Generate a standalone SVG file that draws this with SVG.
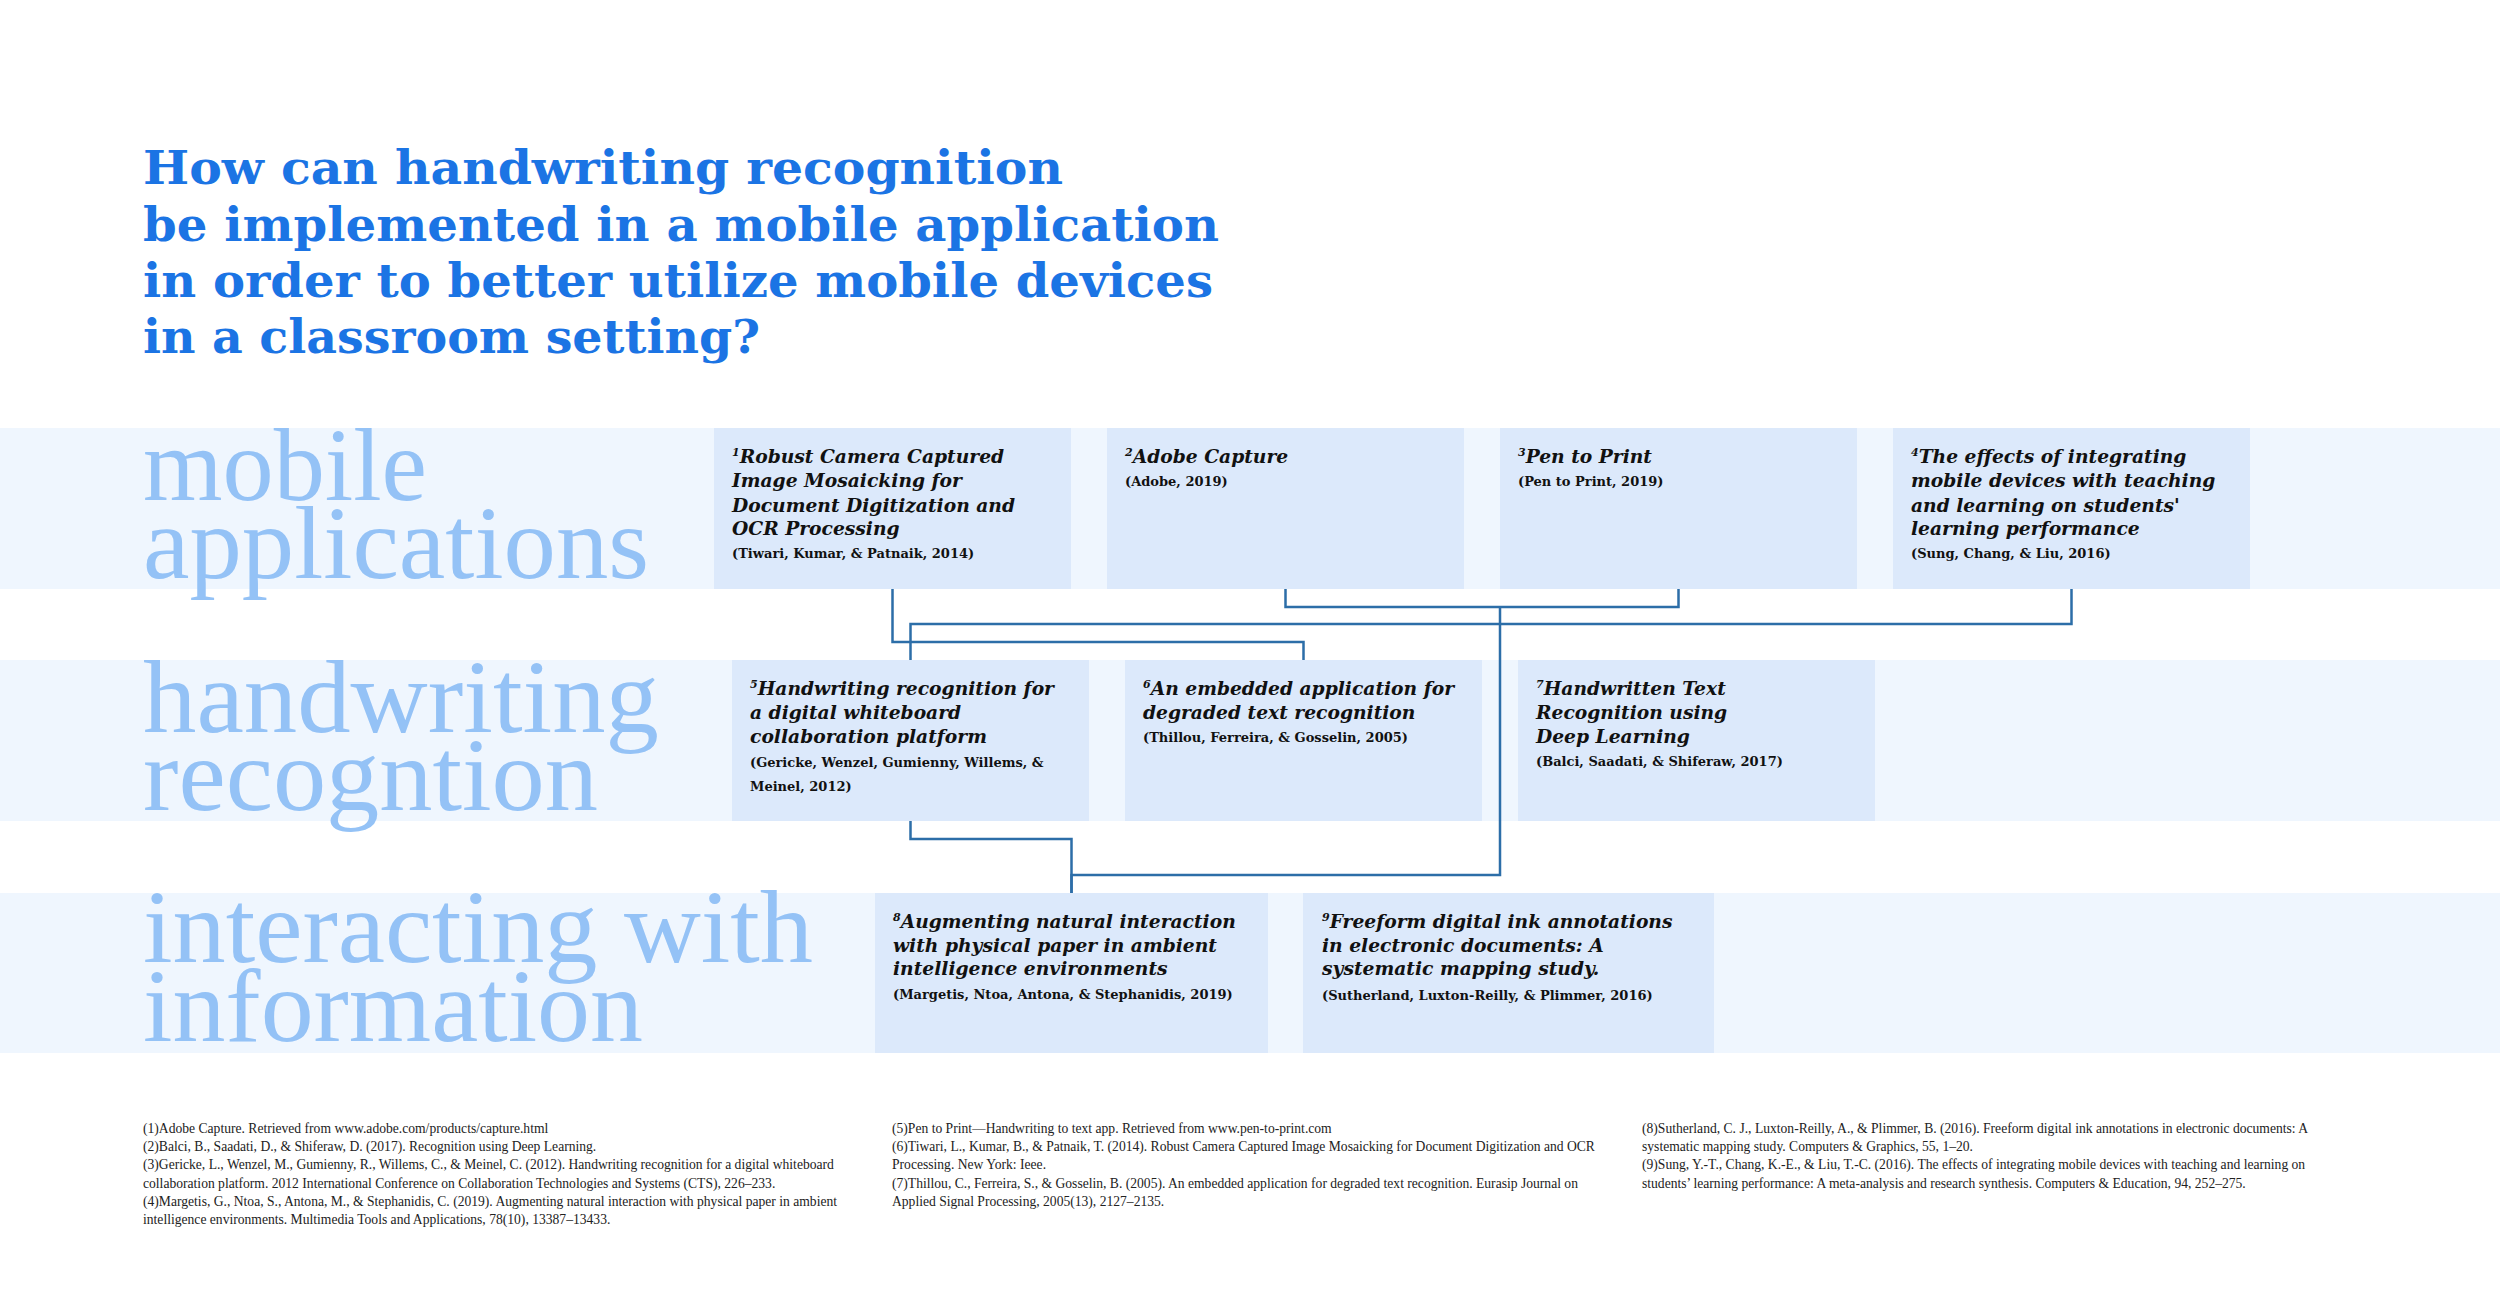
<svg xmlns="http://www.w3.org/2000/svg" width="2500" height="1304" viewBox="0 0 2500 1304">
<style>
.band{fill:#eff6fe}
.node{fill:#dce9fb}
.title{font-family:"DejaVu Serif","Liberation Serif",serif;font-weight:bold;font-size:46px;fill:#1b74e4}
.lab{font-family:"Liberation Serif",serif;font-size:104px;fill:#94c2f6}
.nt{font-family:"DejaVu Serif","Liberation Serif",serif;font-weight:bold;font-style:italic;font-size:18.7px;fill:#111}
.ct{font-family:"DejaVu Serif","Liberation Serif",serif;font-weight:bold;font-size:13px;fill:#111}
.sup{font-size:11px}
.fn{font-family:"Liberation Serif",serif;font-size:13.6px;fill:#222}
.conn{fill:none;stroke:#2c6ea8;stroke-width:2.5}
</style>
<rect width="2500" height="1304" fill="#ffffff"/>
<g id="title">
<text class="title" x="143" y="184" textLength="920" lengthAdjust="spacingAndGlyphs">How can handwriting recognition</text>
<text class="title" x="143" y="241" textLength="1076" lengthAdjust="spacingAndGlyphs">be implemented in a mobile application</text>
<text class="title" x="143" y="297" textLength="1070" lengthAdjust="spacingAndGlyphs">in order to better utilize mobile devices</text>
<text class="title" x="143" y="353" textLength="617" lengthAdjust="spacingAndGlyphs">in a classroom setting?</text>
</g>
<g id="bands">
<rect class="band" x="0" y="428" width="2500" height="161"/>
<rect class="band" x="0" y="660" width="2500" height="161"/>
<rect class="band" x="0" y="893" width="2500" height="160"/>
</g>
<g id="band-labels">
<text class="lab" x="143" y="500" textLength="284" lengthAdjust="spacingAndGlyphs">mobile</text>
<text class="lab" x="143" y="578" textLength="506" lengthAdjust="spacingAndGlyphs">applications</text>
<text class="lab" x="143" y="732" textLength="516" lengthAdjust="spacingAndGlyphs">handwriting</text>
<text class="lab" x="143" y="810" textLength="455" lengthAdjust="spacingAndGlyphs">recogntion</text>
<text class="lab" x="143" y="962" textLength="670" lengthAdjust="spacingAndGlyphs">interacting with</text>
<text class="lab" x="143" y="1041" textLength="500" lengthAdjust="spacingAndGlyphs">information</text>
</g>
<g id="connectors">
<path class="conn" d="M892.5,589 V642 H1303.5 V660"/>
<path class="conn" d="M1285.5,589 V607 H1678.5 V589"/>
<path class="conn" d="M1500,607 V875 H1071.5 V893"/>
<path class="conn" d="M2071.5,589 V624 H910.5 V660"/>
<path class="conn" d="M910.5,821 V839 H1071.5 V893"/>
</g>
<g id="node1">
<rect class="node" x="714" y="428" width="357" height="161"/>
<text class="nt" x="732" y="463"><tspan class="sup" dy="-7">1</tspan><tspan dy="7">Robust Camera Captured</tspan></text>
<text class="nt" x="732" y="487">Image Mosaicking for</text>
<text class="nt" x="732" y="512">Document Digitization and</text>
<text class="nt" x="732" y="535">OCR Processing</text>
<text class="ct" x="732" y="558">(Tiwari, Kumar, &amp; Patnaik, 2014)</text>
</g>
<g id="node2">
<rect class="node" x="1107" y="428" width="357" height="161"/>
<text class="nt" x="1125" y="463"><tspan class="sup" dy="-7">2</tspan><tspan dy="7">Adobe Capture</tspan></text>
<text class="ct" x="1125" y="486">(Adobe, 2019)</text>
</g>
<g id="node3">
<rect class="node" x="1500" y="428" width="357" height="161"/>
<text class="nt" x="1518" y="463"><tspan class="sup" dy="-7">3</tspan><tspan dy="7">Pen to Print</tspan></text>
<text class="ct" x="1518" y="486">(Pen to Print, 2019)</text>
</g>
<g id="node4">
<rect class="node" x="1893" y="428" width="357" height="161"/>
<text class="nt" x="1911" y="463"><tspan class="sup" dy="-7">4</tspan><tspan dy="7">The effects of integrating</tspan></text>
<text class="nt" x="1911" y="487">mobile devices with teaching</text>
<text class="nt" x="1911" y="512">and learning on students'</text>
<text class="nt" x="1911" y="535">learning performance</text>
<text class="ct" x="1911" y="558">(Sung, Chang, &amp; Liu, 2016)</text>
</g>
<g id="node5">
<rect class="node" x="732" y="660" width="357" height="161"/>
<text class="nt" x="750" y="695"><tspan class="sup" dy="-7">5</tspan><tspan dy="7">Handwriting recognition for</tspan></text>
<text class="nt" x="750" y="719">a digital whiteboard</text>
<text class="nt" x="750" y="743">collaboration platform</text>
<text class="ct" x="750" y="767">(Gericke, Wenzel, Gumienny, Willems, &amp;</text>
<text class="ct" x="750" y="791">Meinel, 2012)</text>
</g>
<g id="node6">
<rect class="node" x="1125" y="660" width="357" height="161"/>
<text class="nt" x="1143" y="695"><tspan class="sup" dy="-7">6</tspan><tspan dy="7">An embedded application for</tspan></text>
<text class="nt" x="1143" y="719">degraded text recognition</text>
<text class="ct" x="1143" y="742">(Thillou, Ferreira, &amp; Gosselin, 2005)</text>
</g>
<g id="node7">
<rect class="node" x="1518" y="660" width="357" height="161"/>
<text class="nt" x="1536" y="695"><tspan class="sup" dy="-7">7</tspan><tspan dy="7">Handwritten Text</tspan></text>
<text class="nt" x="1536" y="719">Recognition using</text>
<text class="nt" x="1536" y="743">Deep Learning</text>
<text class="ct" x="1536" y="766">(Balci, Saadati, &amp; Shiferaw, 2017)</text>
</g>
<g id="node8">
<rect class="node" x="875" y="893" width="393" height="160"/>
<text class="nt" x="893" y="928"><tspan class="sup" dy="-7">8</tspan><tspan dy="7">Augmenting natural interaction</tspan></text>
<text class="nt" x="893" y="952">with physical paper in ambient</text>
<text class="nt" x="893" y="975">intelligence environments</text>
<text class="ct" x="893" y="999">(Margetis, Ntoa, Antona, &amp; Stephanidis, 2019)</text>
</g>
<g id="node9">
<rect class="node" x="1303" y="893" width="411" height="160"/>
<text class="nt" x="1322" y="928"><tspan class="sup" dy="-7">9</tspan><tspan dy="7">Freeform digital ink annotations</tspan></text>
<text class="nt" x="1322" y="952">in electronic documents: A</text>
<text class="nt" x="1322" y="975">systematic mapping study.</text>
<text class="ct" x="1322" y="1000">(Sutherland, Luxton-Reilly, &amp; Plimmer, 2016)</text>
</g>
<g id="footnotes">
<text class="fn" x="143" y="1133">(1)Adobe Capture. Retrieved from www.adobe.com/products/capture.html</text>
<text class="fn" x="143" y="1151">(2)Balci, B., Saadati, D., &amp; Shiferaw, D. (2017). Recognition using Deep Learning.</text>
<text class="fn" x="143" y="1169">(3)Gericke, L., Wenzel, M., Gumienny, R., Willems, C., &amp; Meinel, C. (2012). Handwriting recognition for a digital whiteboard</text>
<text class="fn" x="143" y="1188">collaboration platform. 2012 International Conference on Collaboration Technologies and Systems (CTS), 226–233.</text>
<text class="fn" x="143" y="1206">(4)Margetis, G., Ntoa, S., Antona, M., &amp; Stephanidis, C. (2019). Augmenting natural interaction with physical paper in ambient</text>
<text class="fn" x="143" y="1224">intelligence environments. Multimedia Tools and Applications, 78(10), 13387–13433.</text>
<text class="fn" x="892" y="1133">(5)Pen to Print—Handwriting to text app. Retrieved from www.pen-to-print.com</text>
<text class="fn" x="892" y="1151">(6)Tiwari, L., Kumar, B., &amp; Patnaik, T. (2014). Robust Camera Captured Image Mosaicking for Document Digitization and OCR</text>
<text class="fn" x="892" y="1169">Processing. New York: Ieee.</text>
<text class="fn" x="892" y="1188">(7)Thillou, C., Ferreira, S., &amp; Gosselin, B. (2005). An embedded application for degraded text recognition. Eurasip Journal on</text>
<text class="fn" x="892" y="1206">Applied Signal Processing, 2005(13), 2127–2135.</text>
<text class="fn" x="1642" y="1133">(8)Sutherland, C. J., Luxton-Reilly, A., &amp; Plimmer, B. (2016). Freeform digital ink annotations in electronic documents: A</text>
<text class="fn" x="1642" y="1151">systematic mapping study. Computers &amp; Graphics, 55, 1–20.</text>
<text class="fn" x="1642" y="1169">(9)Sung, Y.-T., Chang, K.-E., &amp; Liu, T.-C. (2016). The effects of integrating mobile devices with teaching and learning on</text>
<text class="fn" x="1642" y="1188">students’ learning performance: A meta-analysis and research synthesis. Computers &amp; Education, 94, 252–275.</text>
</g>
</svg>
